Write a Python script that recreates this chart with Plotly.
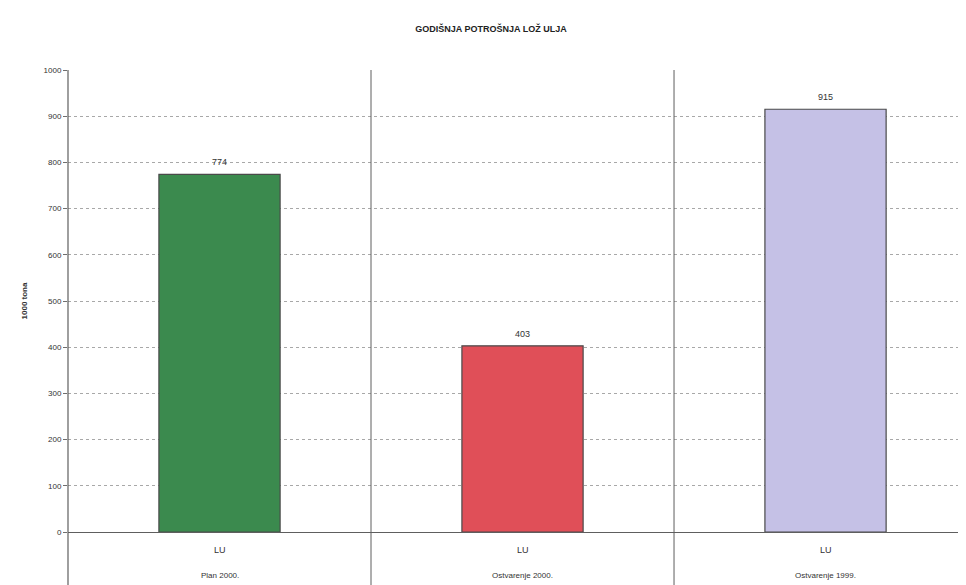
import plotly.graph_objects as go

title = "GODIŠNJA POTROŠNJA LOŽ ULJA"
y_title = "1000 tona"
series_name = "LU"
categories = ["Plan 2000.", "Ostvarenje 2000.", "Ostvarenje 1999."]
values = [774, 403, 915]
colors = ["#3b8a4e", "#e04f58", "#c5c1e6"]
y_ticks = [0, 100, 200, 300, 400, 500, 600, 700, 800, 900, 1000]

xs = list(range(len(categories)))

fig = go.Figure()
fig.add_trace(go.Bar(
    x=xs, y=values, width=0.4,
    marker=dict(color=colors, line=dict(color="#4a4a4a", width=1.2)),
    showlegend=False, hoverinfo="skip",
))

# category separators (extending through label area)
shapes = []
for i in range(len(categories) - 1):
    shapes.append(dict(type="line", xref="x", yref="paper", x0=i + 0.5, x1=i + 0.5,
                       y0=-0.14, y1=1, line=dict(color="#5e5e5e", width=1)))
shapes.append(dict(type="line", xref="paper", yref="paper", x0=0, x1=0,
                   y0=-0.14, y1=1, line=dict(color="#5e5e5e", width=1.2)))

annotations = []
for i, (c, v) in enumerate(zip(categories, values)):
    annotations.append(dict(x=i, y=v, xref="x", yref="y", text=str(v), yshift=12,
                            yanchor="middle", showarrow=False,
                            font=dict(family="Arial, Liberation Sans", size=9, color="#333333")))
    annotations.append(dict(x=i, y=-0.039, xref="x", yref="paper", text=series_name,
                            yanchor="middle", showarrow=False,
                            font=dict(family="Arial, Liberation Sans", size=9, color="#333333")))
    annotations.append(dict(x=i, y=-0.095, xref="x", yref="paper", text=c,
                            yanchor="middle", showarrow=False,
                            font=dict(family="Arial, Liberation Sans", size=8, color="#333333")))

fig.update_layout(
    width=966, height=585,
    margin=dict(l=60, r=0, t=62, b=61, autoexpand=False),
    paper_bgcolor="white", plot_bgcolor="white",
    title=dict(text="<b>" + title + "</b>", x=0.5, xanchor="center", y=0.964, yanchor="middle",
               yref="container",
               font=dict(family="Arial, Liberation Sans", size=9, color="#222222")),
    xaxis=dict(range=[-0.5, 2.49], showticklabels=False, showgrid=False, zeroline=False,
               showline=False, ticks="", automargin=False),
    yaxis=dict(range=[0, 1000], tickvals=y_ticks, ticks="outside", ticklen=4, tickcolor="#6e6e6e",
               showgrid=True, gridcolor="#a8a8a8", griddash="3px,3px", gridwidth=1,
               zeroline=True, zerolinecolor="#5e5e5e", zerolinewidth=1.2,
               showline=False, automargin=False,
               tickfont=dict(family="Arial, Liberation Sans", size=8, color="#333333"),
               title=dict(text="<b>" + y_title + "</b>", standoff=14,
                          font=dict(family="Arial, Liberation Sans", size=8, color="#333333"))),
    shapes=shapes, annotations=annotations,
)

fig.write_html("out.html")
